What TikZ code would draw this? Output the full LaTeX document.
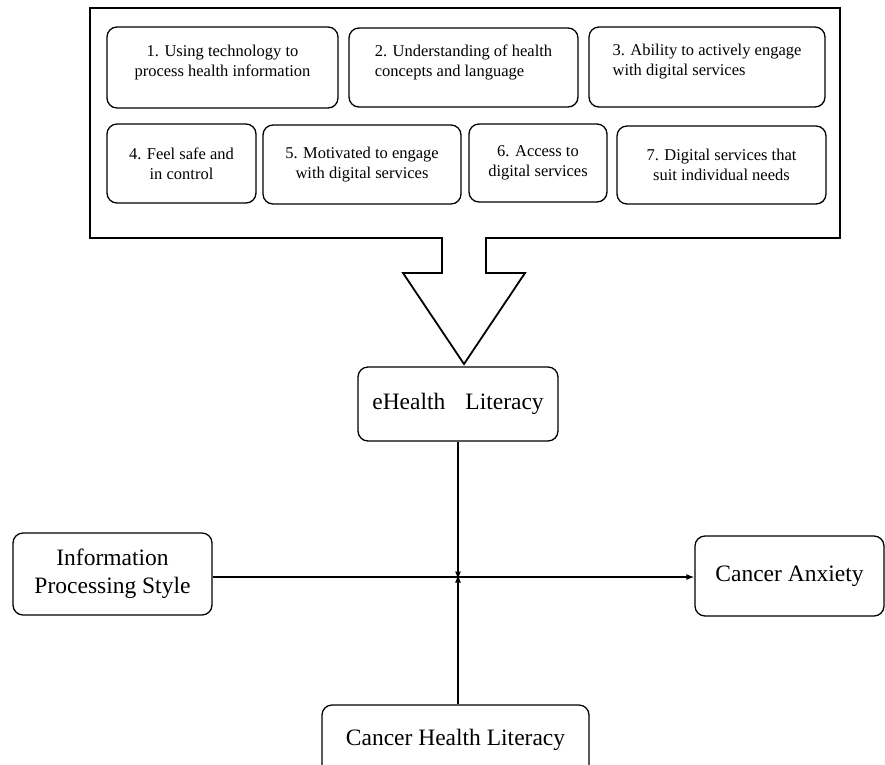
\documentclass[tikz,border=0pt]{standalone}
\usepackage{fontspec}
\setmainfont{Liberation Serif}
\usetikzlibrary{arrows.meta}

\begin{document}
\begin{tikzpicture}[x=1pt, y=-1pt,
  item/.style={draw, rounded corners=10pt, line width=1.3pt, inner sep=0pt, font=\fontsize{16.5}{20}\selectfont},
  var/.style={draw, rounded corners=10pt, line width=1.3pt, inner sep=0pt, align=center, font=\fontsize{23.5}{28}\selectfont},
  conn/.style={-{Latex[length=8pt,width=6pt]}, line width=1.3pt}
]
  \useasboundingbox (0,0) rectangle (885,764);

  % frame with the block arrow
  \draw[line width=1.8pt] (442,238) -- (90,238) -- (90,8) -- (840,8) -- (840,238)
    -- (486,238) -- (486,273) -- (525,273) -- (464,364) -- (403,273) -- (442,273) -- cycle;

  \node[item, align=center, minimum width=231pt, minimum height=81pt] (dim1) at (222.5,67.5) {1. Using technology to\\process health information\\[-6pt]\mbox{}};
  \node[item, align=left, minimum width=229pt, minimum height=79pt] (dim2) at (463.5,67.5) {2. Understanding of health\\concepts and language\\[-6pt]\mbox{}};
  \node[item, align=left, minimum width=236pt, minimum height=80pt] (dim3) at (707,67) {3. Ability to actively engage\\with digital services\\[-6pt]\mbox{}};
  \node[item, align=center, minimum width=149pt, minimum height=79pt] (dim4) at (181.5,163.5) {4. Feel safe and\\in control};
  \node[item, align=center, minimum width=198pt, minimum height=79pt] (dim5) at (362,164.5) {5. Motivated to engage\\with digital services};
  \node[item, align=center, minimum width=138pt, minimum height=78pt] (dim6) at (538,163) {6. Access to\\digital services};
  \node[item, align=center, minimum width=209pt, minimum height=78pt] (dim7) at (721.5,165) {7. Digital services that\\suit individual needs};

  \node[var, minimum width=200pt, minimum height=74pt] (ehl) at (458,404) {eHealth\hspace{0.6em} Literacy};
  \node[var, minimum width=199pt, minimum height=82pt] (ips) at (112.5,574) {Information\\Processing Style};
  \node[var, minimum width=189pt, minimum height=80pt] (anx) at (789.5,576) {Cancer Anxiety};
  \node[var, minimum width=267pt, minimum height=70pt] (chl) at (455.5,740) {Cancer Health Literacy};

  \coordinate (mid) at (458,577);

  \draw[conn] (ips.east |- mid) -- (anx.west |- mid);
  \draw[conn] (ehl.south -| mid) -- ([yshift=-2.5pt]mid);
  \draw[conn] (chl.north -| mid) -- ([yshift=2.5pt]mid);
\end{tikzpicture}
\end{document}
